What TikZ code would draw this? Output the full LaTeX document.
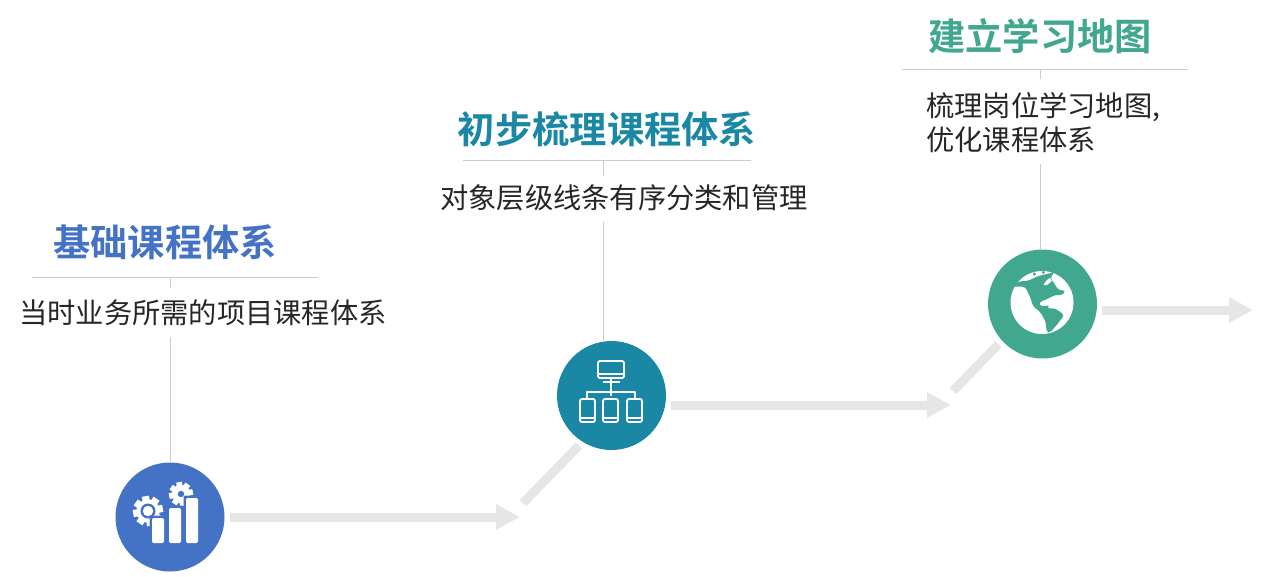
\documentclass[tikz,border=0pt]{standalone}
\usepackage{fontspec}
\usetikzlibrary{arrows.meta}
\newfontfamily\cjkreg{Noto Sans CJK SC}
\newfontfamily\cjkbold{Noto Sans CJK SC Bold}
\definecolor{cblue}{HTML}{4472C4}
\definecolor{cteal}{HTML}{1A87A4}
\definecolor{cgreen}{HTML}{41A88F}
\definecolor{cgray}{HTML}{E7E6E6}
\definecolor{cline}{HTML}{CCCCCC}
\definecolor{ctext}{HTML}{262626}
\tikzset{
  flow/.style={draw=cgray,line width=6.75pt,shorten <=3.75pt},
  flowarrow/.style={flow,-{Triangle[length=18pt,width=18pt]}},
  flowdiag/.style={draw=cgray,line width=6.75pt,shorten >=3.75pt},
  leader/.style={draw=cline,line width=0.75pt},
  badge/.style={circle,minimum size=81.75pt,inner sep=0pt,draw=none},
  headline/.style={font=\cjkbold\fontsize{27.95pt}{30pt}\selectfont,inner sep=0pt,anchor=center},
  bodytext/.style={font=\cjkreg\fontsize{21.2pt}{25.5pt}\selectfont,text=ctext,inner sep=0pt,anchor=center},
  iconline/.style={draw=white,line width=1.35pt,line join=round},
}
\newcommand{\gearshape}[3]{% cx cy r
  \foreach \a in {0,45,...,315}{
    \fill[white,shift={(#1,#2)},rotate=\a+10] (-#3*0.24,0) rectangle (#3*0.24,-#3);
  }
  \fill[white] (#1,#2) circle[radius=#3*0.78];
}
\begin{document}
\begin{tikzpicture}[x=0.75pt,y=-0.75pt]
\useasboundingbox (0,0) rectangle (1280,576);
% badges
\node[badge,fill=cblue] (c1) at (170,517) {};
\node[badge,fill=cteal] (c2) at (611.5,395.5) {};
\node[badge,fill=cgreen] (c3) at (1042.5,304) {};
% free ends
\coordinate (e1) at (520,517);
\coordinate (s2) at (523,503);
\coordinate (e2) at (951,405);
\coordinate (s3) at (953,391);
\coordinate (e3) at (1253,310);
% flow
\draw[flowarrow] (c1.east) -- (e1);
\draw[flowdiag] (s2) -- (c2.238);
\draw[flowarrow] (c2.east |- e2) -- (e2);
\draw[flowdiag] (s3) -- (c3.222);
\draw[flowarrow] (c3.east |- e3) -- (e3);
% headings
\node[headline,text=cblue] (t1) at (165,242) {基础课程体系};
\node[headline,text=cteal] (t2) at (607,129) {初步梳理课程体系};
\node[headline,text=cgreen] (t3) at (1040,36) {建立学习地图};
% body
\node[bodytext] (b1) at (203,313) {当时业务所需的项目课程体系};
\node[bodytext] (b2) at (624,198) {对象层级线条有序分类和管理};
\node[bodytext,align=left,anchor=north west] (b3) at (926,92) {梳理岗位学习地图,\\优化课程体系};
% rules
\coordinate (r1a) at (32,277); \coordinate (r1b) at (318,277);
\coordinate (r2a) at (463,160); \coordinate (r2b) at (751,160);
\coordinate (r3a) at (902,69); \coordinate (r3b) at (1188,69);
\draw[leader] (r1a) -- (r1b);
\draw[leader] (r2a) -- (r2b);
\draw[leader] (r3a) -- (r3b);
\coordinate (u1) at (170,277); \coordinate (v1) at (170,288); \coordinate (w1) at (170,337);
\coordinate (u2) at (603,160); \coordinate (v2) at (603,176); \coordinate (w2) at (603,222);
\coordinate (u3) at (1040,69); \coordinate (v3) at (1040,79); \coordinate (w3) at (1040,164);
\draw[leader] (u1) -- (v1);
\draw[leader] (w1) -- (c1.north);
\draw[leader] (u2) -- (v2);
\draw[leader] (w2) -- (c2.north -| w2);
\draw[leader] (u3) -- (v3);
\draw[leader] (w3) -- (c3.north -| w3);
% icon 1: gears and bars
\gearshape{148}{511}{15}
\fill[cblue] (148,511) circle[radius=7.5];
\fill[white] (148,511) circle[radius=5.2];
\gearshape{181}{494}{12}
\fill[cblue] (181,494) circle[radius=3.2];
\foreach \xa/\xb/\yt in {152/164/518,169/181/508,186/198/498}{
  \fill[cblue,rounded corners=1.5pt] (\xa-2.5,\yt-2.5) rectangle (\xb+2.5,545);
  \fill[white,rounded corners=1pt] (\xa,\yt) rectangle (\xb,543);
}
% icon 2: network
\draw[iconline,rounded corners=1.5pt] (598,361) rectangle (624,378);
\draw[iconline] (598,374) -- (624,374);
\draw[iconline] (603,382) -- (620,382);
\draw[iconline] (611,378) -- (611,396);
\draw[iconline] (587,398) -- (587,392) -- (635,392) -- (635,398);
\foreach \xa/\xb in {580/595,603/618,627/642}{
  \draw[iconline,rounded corners=1.5pt] (\xa,399) rectangle (\xb,422);
  \draw[iconline] (\xa,418) -- (\xb,418);
}
% icon 3: globe
\fill[white] (1042,302.5) circle[radius=31.5];
\begin{scope}[shift={(975,240)},x=0.25pt,y=-0.25pt]
  \clip (200,187) circle[radius=95];
  \fill[cgreen,rounded corners=2pt] (115,140) -- (128,125) -- (160,122) -- (190,108) -- (225,100) -- (240,94)
    -- (226,112) -- (250,150) -- (272,152) -- (262,165) -- (240,165) -- (215,178) -- (195,185) -- (192,195) -- (205,200) -- (225,195) -- (215,205)
    -- (240,205) -- (268,225) -- (245,255) -- (225,278) -- (215,276) -- (212,245) -- (195,215) -- (175,200) -- (165,170) -- (150,140) -- (118,140) -- cycle;
  \fill[white,rounded corners=1pt] (204,135) -- (214,122) -- (226,112) -- (232,125) -- (222,128) -- (218,136) -- cycle;
  \fill[cgreen] (178,102) circle[radius=5];
  \fill[cgreen] (205,97) circle[radius=5];
\end{scope}
\end{tikzpicture}
\end{document}
